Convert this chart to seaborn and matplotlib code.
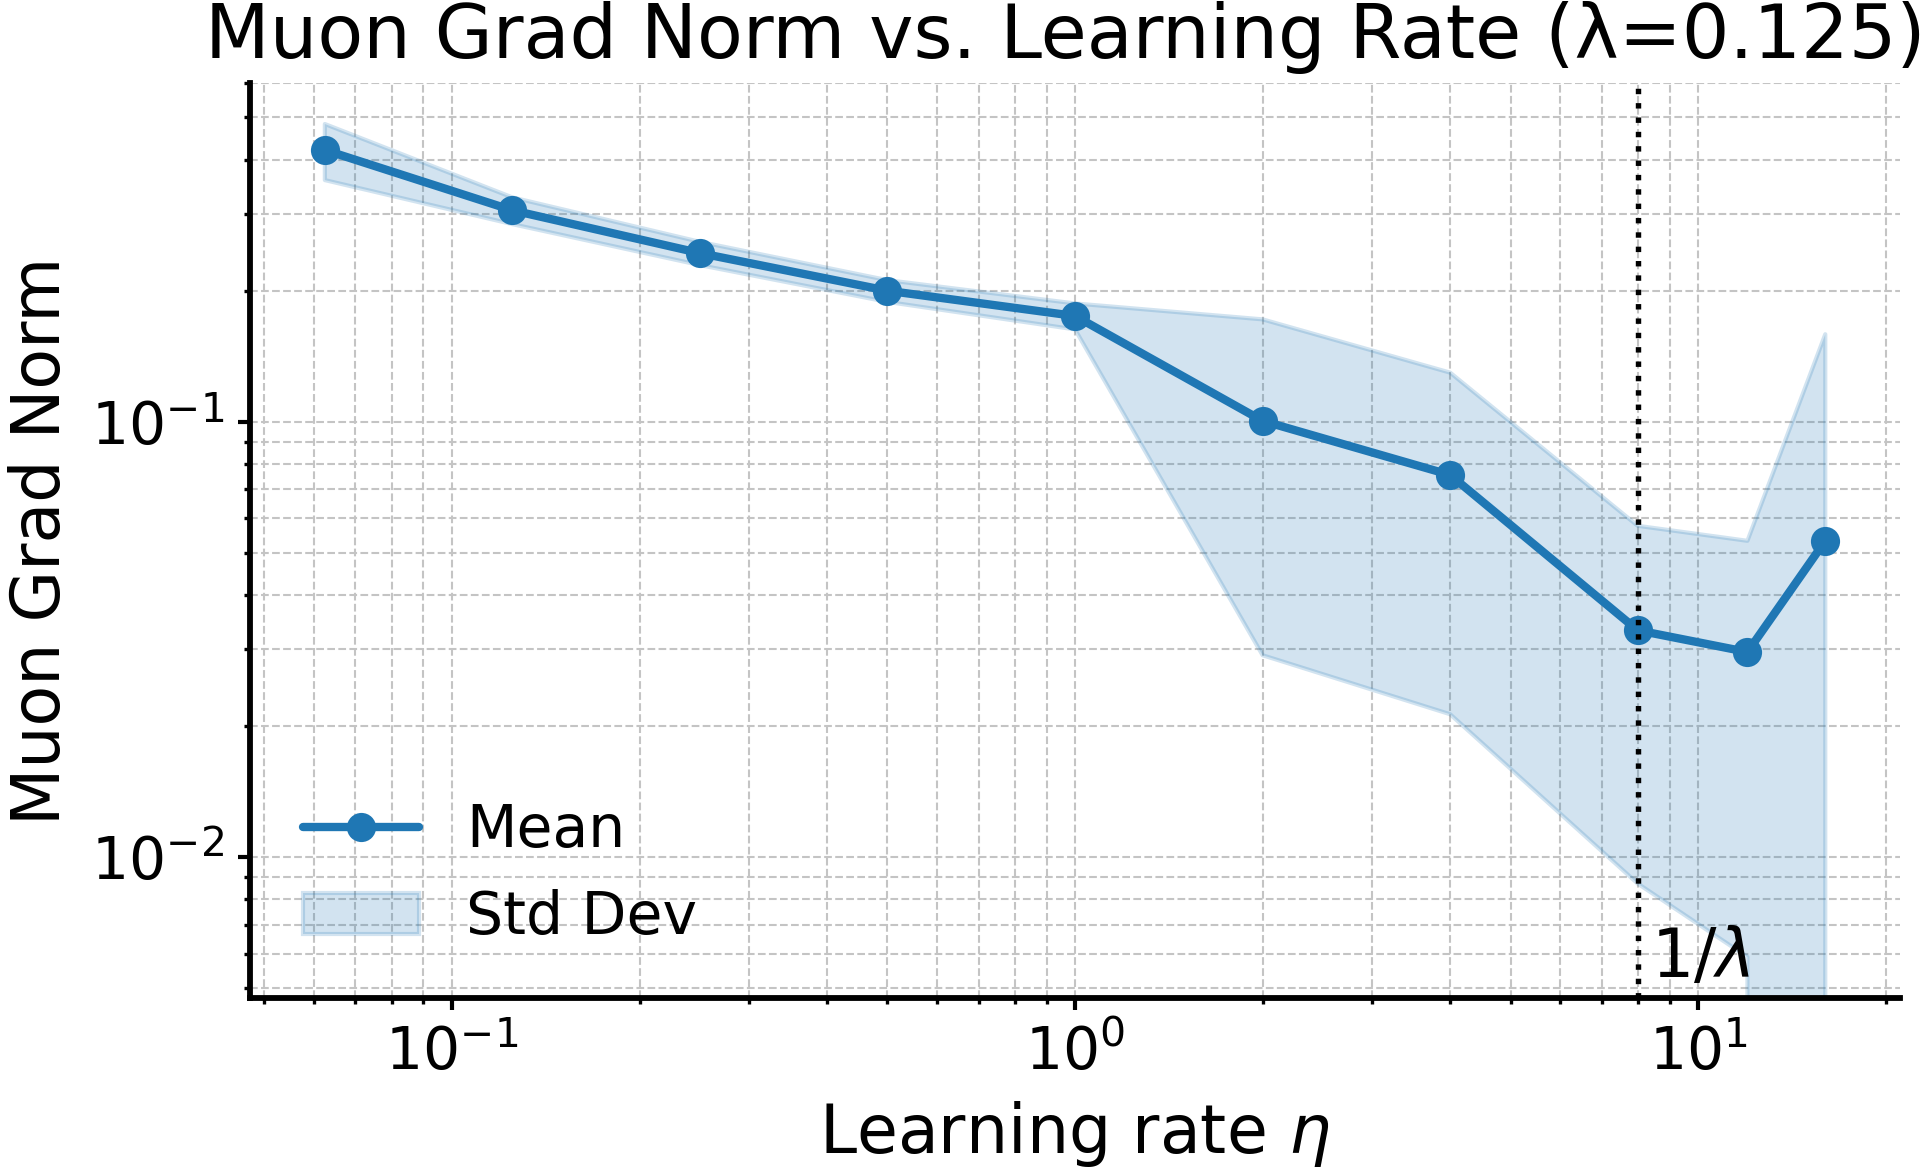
import numpy as np
import pandas as pd
import matplotlib
matplotlib.use("Agg")
import matplotlib.pyplot as plt
import seaborn as sns

learning_rates = [0.0625, 0.125, 0.25, 0.5, 1.0, 2.0, 4.0, 8.0, 12.0, 16.0]
grad_norm_mean = [0.421, 0.306, 0.244, 0.200, 0.175, 0.1005, 0.0755, 0.0332, 0.0296, 0.0533]
grad_norm_std = [0.062, 0.0216, 0.015, 0.0115, 0.012, 0.0714, 0.0542, 0.0245, 0.0237, 0.1056]
wd_lambda = 0.125

sns.set_style("ticks")
plt.rcParams['font.family'] = ['DejaVu Sans']
# plain black text / axes like the default matplotlib look
for key in ['text.color', 'axes.labelcolor', 'xtick.color', 'ytick.color', 'axes.edgecolor']:
    plt.rcParams[key] = 'black'

df = pd.DataFrame({'lr': learning_rates, 'mean': grad_norm_mean, 'std': grad_norm_std})
color = '#1f77b4'

fig = plt.figure(figsize=(1928 / 300, 1167 / 300), dpi=300)
ax = fig.add_axes([0.1297, 0.1448, 0.8558, 0.7841])

sns.lineplot(data=df, x='lr', y='mean', ax=ax, color=color, marker='o',
             markersize=7, markeredgewidth=0, linewidth=2, label='Mean',
             errorbar=None, zorder=3)
ax.fill_between(df['lr'], df['mean'] - df['std'], df['mean'] + df['std'],
                color=color, alpha=0.2, label='Std Dev', zorder=2)

ax.set_xscale('log')
ax.set_yscale('log')
ax.set_xlim(0.0625 / 10 ** 0.12, 16 * 10 ** 0.12)
ax.set_ylim(0.00475, 0.6)

# 1/lambda marker
ax.axvline(1 / wd_lambda, color='black', linestyle=':', linewidth=1.3, zorder=4)
ax.text(1 / wd_lambda * 1.05, 0.0053, r'$1/\lambda$', fontsize=16,
        ha='left', va='baseline')

ax.grid(True, which='both', linestyle='--', linewidth=0.5, color='#c4c4c4', zorder=0)
ax.set_axisbelow(True)

ax.set_title(f'Muon Grad Norm vs. Learning Rate (λ={wd_lambda})', fontsize=18, x=0.494)
ax.set_xlabel(r'Learning rate $\eta$', fontsize=16)
ax.set_ylabel('Muon Grad Norm', fontsize=16)
ax.tick_params(axis='both', which='major', labelsize=14, length=2.8, width=1.0)
ax.tick_params(axis='both', which='minor', length=1.4, width=0.8)

sns.despine(ax=ax)
for side in ['left', 'bottom']:
    ax.spines[side].set_linewidth(1.4)

ax.legend(loc='lower left', frameon=False, fontsize=14)

fig.savefig('out.png', dpi=300)
